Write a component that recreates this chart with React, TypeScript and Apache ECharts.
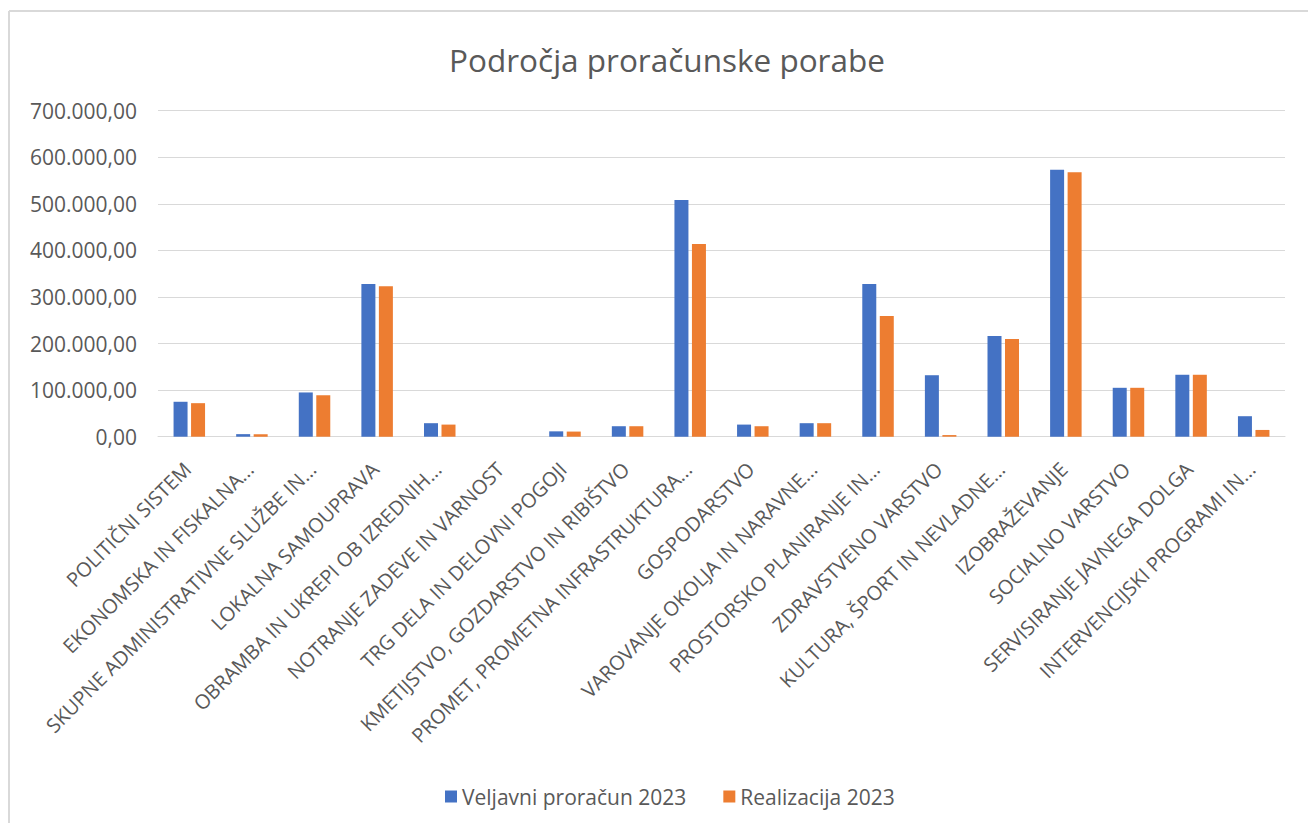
import React, { useEffect, useRef } from "react";
import * as echarts from "echarts";

const titleText = "Področja proračunske porabe";
const categories = [
  "POLITIČNI SISTEM",
  "EKONOMSKA IN FISKALNA...",
  "SKUPNE ADMINISTRATIVNE SLUŽBE IN...",
  "LOKALNA SAMOUPRAVA",
  "OBRAMBA IN UKREPI OB IZREDNIH...",
  "NOTRANJE ZADEVE IN VARNOST",
  "TRG DELA IN DELOVNI POGOJI",
  "KMETIJSTVO, GOZDARSTVO IN RIBIŠTVO",
  "PROMET, PROMETNA INFRASTRUKTURA...",
  "GOSPODARSTVO",
  "VAROVANJE OKOLJA IN NARAVNE...",
  "PROSTORSKO PLANIRANJE IN...",
  "ZDRAVSTVENO VARSTVO",
  "KULTURA, ŠPORT IN NEVLADNE...",
  "IZOBRAŽEVANJE",
  "SOCIALNO VARSTVO",
  "SERVISIRANJE JAVNEGA DOLGA",
  "INTERVENCIJSKI PROGRAMI IN...",
];
const seriesNames = ["Veljavni proračun 2023", "Realizacija 2023"];
const veljavni = [75000, 5500, 95000, 328000, 29000, 0, 11500, 22500, 508000, 26000, 29000, 328000, 132000, 216000, 573000, 105000, 133000, 44000];
const realizacija = [72000, 5500, 89000, 323000, 26000, 0, 11000, 22500, 414000, 22500, 29000, 259000, 3500, 210000, 568000, 105000, 133000, 14500];
const yMin = 0;
const yMax = 700000;
const yStep = 100000;

const FONT = "'Open Sans', 'Noto Sans', sans-serif";
const GREY = "#595959";
const LIGHT = "#d9d9d9";

function fmt(v: number): string {
  const s = Math.round(v).toString().replace(/\B(?=(\d{3})+(?!\d))/g, ".");
  return s + ",00";
}

export default function App() {
  const ref = useRef<HTMLDivElement>(null);
  useEffect(() => {
    if (!ref.current) return;
    const chart = echarts.init(ref.current, undefined, { renderer: "svg" });
    const gridTop = 110.7;
    const gridBottom = 386.3;
    chart.setOption({
      animation: false,
      backgroundColor: "#ffffff",
      color: ["#4472C4", "#ED7D31"],
      title: {
        text: titleText,
        left: 662,
        textAlign: "center",
        top: 38,
        textStyle: { fontFamily: FONT, fontSize: 31.5, fontWeight: "normal", color: GREY },
      },
      legend: {
        left: 440,
        top: 781,
        icon: "rect",
        itemWidth: 12,
        itemHeight: 12,
        itemGap: 37,
        textStyle: { fontFamily: FONT, fontSize: 21, color: GREY },
        data: seriesNames,
      },
      grid: [
        { left: 158, right: 23, top: gridTop, bottom: gridBottom, containLabel: false },
        { left: 156, right: 25, top: gridTop, bottom: gridBottom, containLabel: false },
      ],
      xAxis: [
        {
          type: "category",
          gridIndex: 0,
          data: categories,
          axisLine: { show: true, lineStyle: { color: LIGHT, width: 1 } },
          axisTick: { show: false },
          axisLabel: { show: false },
        },
        {
          type: "category",
          gridIndex: 1,
          data: categories,
          axisLine: { show: false },
          axisTick: { show: false },
          splitLine: { show: false },
          axisLabel: {
            interval: 0,
            rotate: 45,
            margin: 29,
            fontFamily: FONT,
            fontSize: 20,
            color: GREY,
          },
        },
      ],
      yAxis: [
        {
          type: "value",
          gridIndex: 0,
          min: yMin,
          max: yMax,
          interval: yStep,
          axisLine: { show: false },
          axisTick: { show: false },
          splitLine: { lineStyle: { color: LIGHT, width: 1 } },
          axisLabel: {
            margin: 21,
            fontFamily: FONT,
            fontSize: 21,
            color: GREY,
            formatter: (v: number) => fmt(v),
          },
        },
        {
          type: "value",
          gridIndex: 1,
          min: yMin,
          max: yMax,
          interval: yStep,
          show: false,
        },
      ],
      series: [
        { name: seriesNames[0], type: "bar", xAxisIndex: 0, yAxisIndex: 0, data: veljavni, barWidth: 14, barGap: "25%" },
        { name: seriesNames[1], type: "bar", xAxisIndex: 0, yAxisIndex: 0, data: realizacija, barWidth: 14, barGap: "25%" },
      ],
      graphic: [
        { type: "line", shape: { x1: 9, y1: 11, x2: 1308, y2: 11 }, style: { stroke: LIGHT, lineWidth: 2 } },
        { type: "line", shape: { x1: 9, y1: 11, x2: 9, y2: 823 }, style: { stroke: LIGHT, lineWidth: 2 } },
      ],
    });
    return () => chart.dispose();
  }, []);
  return (
    <div
      ref={ref}
      style={{ position: "absolute", left: 0, top: 0, width: 1308, height: 823 }}
    />
  );
}
